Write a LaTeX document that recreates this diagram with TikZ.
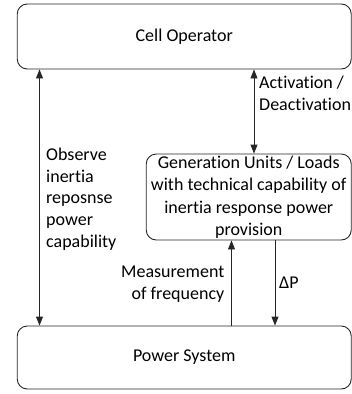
\documentclass[tikz,border=0pt]{standalone}
\usepackage{fontspec}
\setmainfont{Carlito}[Ligatures=NoCommon]
\usetikzlibrary{arrows.meta}
\begin{document}
\begin{tikzpicture}[x=1pt,y=-1pt,
  box/.style={draw=black!85,line width=0.9pt,rounded corners=10pt,inner sep=0pt,align=center,font=\fontsize{18}{22.5}\selectfont},
  lbl/.style={inner sep=0pt,font=\fontsize{18}{21.7}\selectfont},
  conn/.style={draw=black!85,line width=0.9pt},
  tip/.style={-{Triangle[length=9pt,width=7pt]}},
  tips/.style={{Triangle[length=9pt,width=7pt]}-{Triangle[length=9pt,width=7pt]}}]
\useasboundingbox (0,0) rectangle (352,394);
\node[box,minimum width=334pt,minimum height=65pt] (co) at (184.25,36.5) {Cell Operator};
\node[box,minimum width=205pt,minimum height=86pt] (gu) at (248.75,197) {Generation Units / Loads\\with technical capability of\\inertia response power\\provision};
\node[box,minimum width=334pt,minimum height=63pt] (ps) at (184.25,357.5) {Power System};
\coordinate (xl) at (39.5,0);
\coordinate (xa) at (254,0);
\coordinate (xm) at (231.5,0);
\coordinate (xd) at (275,0);
\draw[conn,tips] (xl |- co.south) -- (xl |- ps.north);
\draw[conn,tips] (xa |- co.south) -- (xa |- gu.north);
\draw[conn,tip] (xm |- ps.north) -- (xm |- gu.south);
\draw[conn,tip] (xd |- gu.south) -- (xd |- ps.north);
\node[lbl,anchor=west,align=left] (la) at (259,93.5) {Activation /\\Deactivation};
\node[lbl,anchor=west,align=left] (lo) at (46,199) {Observe\\inertia\\reposnse\\power\\capability};
\node[lbl,anchor=east,align=right] (lm) at (224.5,284) {Measurement\\of frequency};
\node[lbl,anchor=west] (ld) at (279,283) {ΔP};
\end{tikzpicture}
\end{document}
